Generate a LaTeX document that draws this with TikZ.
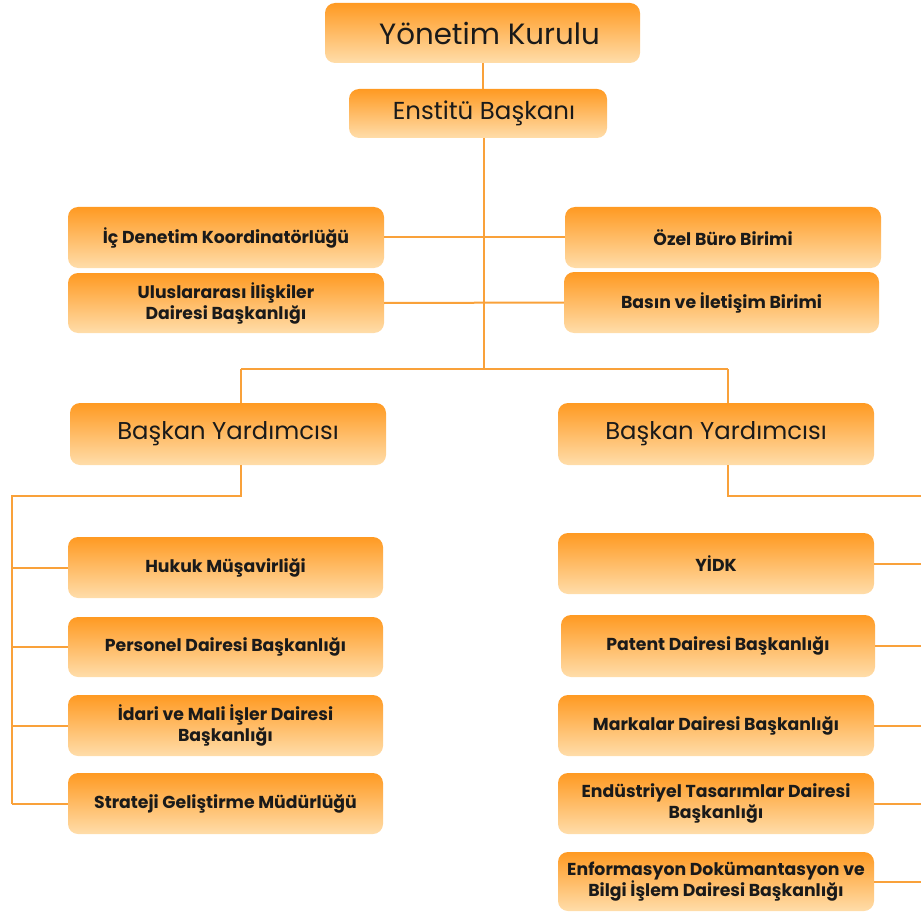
\documentclass[tikz,border=0pt]{standalone}
\usepackage{fontspec}
\setmainfont{Poppins}
\definecolor{boxtop}{HTML}{FF9A22}
\definecolor{boxbot}{HTML}{FFDDAA}
\definecolor{linec}{HTML}{F9A13A}
\definecolor{txt}{HTML}{1A1A1A}
\begin{document}
\begin{tikzpicture}[x=1pt,y=-1pt,
  box/.style={rounded corners=10pt, top color=boxtop, bottom color=boxbot, draw=none,
    text=txt, align=center, inner sep=0pt, minimum width=316pt, minimum height=61pt},
  small/.style={box, font=\fontsize{17.3}{21}\selectfont\bfseries},
  big/.style={box, font=\fontsize{24.3}{28}\selectfont},
  conn/.style={draw=linec, line width=2pt}]
\useasboundingbox (0,0) rectangle (921,912);
% nodes
\node[box, font=\fontsize{29.3}{33}\selectfont, minimum width=315pt, minimum height=60pt] (yk) at (482.5,33) {\hspace*{14pt}Yönetim Kurulu};
\node[box, font=\fontsize{24.5}{28}\selectfont, minimum width=258pt, minimum height=49pt] (eb) at (478,113.5) {\hspace*{12pt}Enstitü Başkanı};
\node[small] (icd) at (226,237.5) {İç Denetim Koordinatörlüğü};
\node[small, minimum height=60pt] (ulu) at (226,303) {Uluslararası İlişkiler\\Dairesi Başkanlığı};
\node[small] (ozel) at (723,237.5) {Özel Büro Birimi};
\node[small, minimum width=315pt] (basin) at (721.5,302.5) {Basın ve İletişim Birimi};
\node[big, minimum height=62pt] (byl) at (228,434) {Başkan Yardımcısı};
\node[big, minimum height=62pt] (byr) at (716,434) {Başkan Yardımcısı};
\node[small, minimum width=315pt] (hukuk) at (225.5,567.5) {Hukuk Müşavirliği};
\node[small, minimum width=315pt, minimum height=60pt] (pers) at (225.5,647) {Personel Dairesi Başkanlığı};
\node[small, minimum width=315pt] (idari) at (225.5,725.5) {İdari ve Mali İşler Dairesi\\Başkanlığı};
\node[small, minimum width=315pt] (strat) at (225.5,803.5) {Strateji Geliştirme Müdürlüğü};
\node[small] (yidk) at (716,563.5) {YİDK};
\node[small, minimum width=314pt, minimum height=62pt] (patent) at (718,646) {Patent Dairesi Başkanlığı};
\node[small] (marka) at (716,725.5) {Markalar Dairesi Başkanlığı};
\node[small] (endus) at (716,803.5) {Endüstriyel Tasarımlar Dairesi\\Başkanlığı};
\node[small, minimum height=59pt] (enfo) at (716,881.5) {Enformasyon Dokümantasyon ve\\Bilgi İşlem Dairesi Başkanlığı};
% coordinates
\coordinate (hub) at (484,369);
\coordinate (hl) at (241,369);
\coordinate (hr) at (728,369);
\coordinate (bl) at (241,496);
\coordinate (ls) at (12,496);
\coordinate (lb) at (12,803.5);
\coordinate (br) at (728,496);
\coordinate (re) at (921,496);
% connectors
\draw[conn] (yk.south) -- (eb.north -| yk.south);
\draw[conn] (eb.south -| hub) -- (hub);
\draw[conn] (icd.east) -- (ozel.west);
\draw[conn] (ulu.east) -- (basin.west);
\draw[conn] (hl) -- (hr);
\draw[conn] (hl) -- (hl |- byl.north);
\draw[conn] (hr) -- (hr |- byr.north);
\draw[conn] (hl |- byl.south) -- (bl) -- (ls) -- (lb);
\draw[conn] (hukuk.west -| ls) -- (hukuk.west);
\draw[conn] (pers.west -| ls) -- (pers.west);
\draw[conn] (idari.west -| ls) -- (idari.west);
\draw[conn] (strat.west -| ls) -- (strat.west);
\draw[conn] (hr |- byr.south) -- (br) -- (re);
\draw[conn] (yidk.east) -- (yidk.east -| re);
\draw[conn] (patent.east) -- (patent.east -| re);
\draw[conn] (marka.east) -- (marka.east -| re);
\draw[conn] (endus.east) -- (endus.east -| re);
\draw[conn] (enfo.east) -- (enfo.east -| re);
\end{tikzpicture}
\end{document}
